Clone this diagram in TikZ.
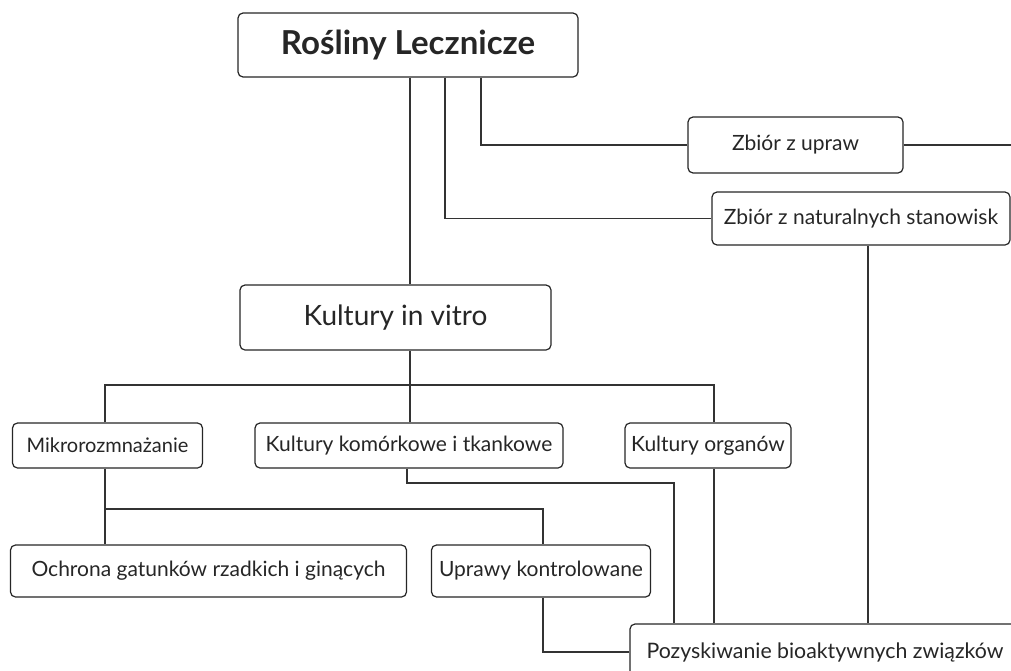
\documentclass[tikz,border=0pt]{standalone}
\usepackage{fontspec}
\setmainfont{Lato}
\begin{document}
\begin{tikzpicture}[x=1pt,y=-1pt,
  box/.style={draw=black!85, line width=1.2pt, rounded corners=5pt, fill=white, text=black!85, inner sep=0pt, align=center},
  conn/.style={draw=black!80, line width=1.2pt},
  small/.style={box, font=\fontsize{21}{24}\selectfont},
  big/.style={box, font=\fontsize{28}{32}\selectfont}]
\useasboundingbox (0,0) rectangle (1011,670);
\clip (0,0) rectangle (1011,670);
% nodes
\node[big, minimum width=340pt, minimum height=64pt, font=\fontsize{33}{38}\selectfont\bfseries] (title) at (408,45) {Rośliny Lecznicze};
\node[small, minimum width=215pt, minimum height=56pt] (upraw) at (795.5,145) {Zbiór z upraw};
\node[small, minimum width=298pt, minimum height=53pt] (natural) at (861,218.5) {Zbiór z naturalnych stanowisk};
\node[big, minimum width=311pt, minimum height=65pt] (vitro) at (395.5,317.5) {Kultury in vitro};
\node[small, minimum width=190pt, minimum height=45pt, font=\fontsize{20}{24}\selectfont] (mikro) at (107.5,445.5) {Mikrorozmnażanie};
\node[small, minimum width=308pt, minimum height=45pt] (komork) at (409,445.5) {Kultury komórkowe i tkankowe};
\node[small, minimum width=166pt, minimum height=45pt] (organow) at (708,445.5) {Kultury organów};
\node[small, minimum width=396pt, minimum height=52pt] (ochrona) at (208.5,571) {Ochrona gatunków rzadkich i ginących};
\node[small, minimum width=219pt, minimum height=52pt] (uprawy) at (541,571) {Uprawy kontrolowane};
\node[small, minimum width=390pt, minimum height=56pt, font=\fontsize{21.3}{24}\selectfont] (pozysk) at (825,652) {Pozyskiwanie bioaktywnych związków};
\coordinate (edge) at (1011,145);
% connectors
\draw[conn] (title.south -| 410,0) -- (vitro.north -| 410,0);
\draw[conn] (title.south -| 445,0) |- (natural.west);
\draw[conn] (title.south -| 481,0) |- (upraw.west);
\draw[conn] (upraw.east) -- (edge);
\draw[conn] (natural.south -| 868,0) -- (pozysk.north -| 868,0);
\draw[conn] (komork.north -| 410,0) -- (vitro.south -| 410,0);
\draw[conn] (mikro.north -| 105,0) -- (105,385) -| (organow.north -| 714,0);
\draw[conn] (komork.south -| 407,0) -- (407,483) -| (pozysk.north -| 674,0);
\draw[conn] (organow.south -| 714,0) -- (pozysk.north -| 714,0);
\draw[conn] (mikro.south -| 105,0) -- (ochrona.north -| 105,0);
\draw[conn] (105,509) -| (uprawy.north -| 543,0);
\draw[conn] (uprawy.south -| 543,0) |- (pozysk.west);
\end{tikzpicture}
\end{document}
